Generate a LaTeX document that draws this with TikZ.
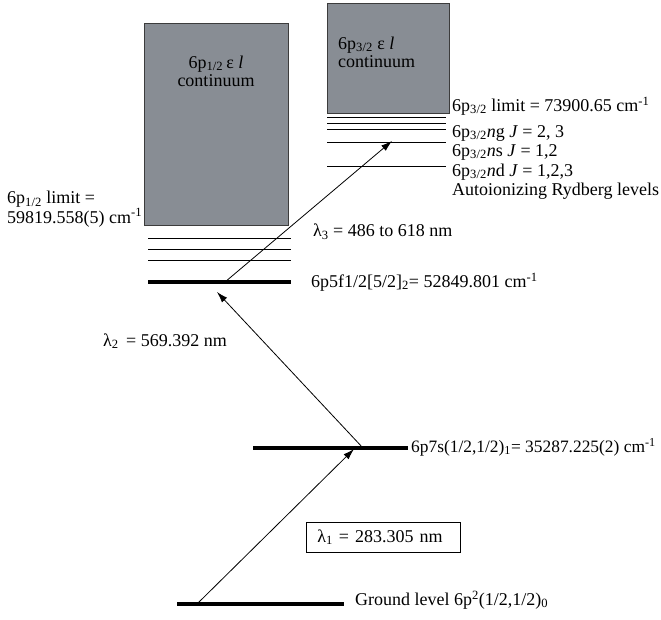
\documentclass[tikz,border=0pt]{standalone}
\usepackage{fontspec}
\setmainfont{Liberation Serif}
\usetikzlibrary{arrows.meta}
\definecolor{contgray}{RGB}{136,141,148}
\definecolor{edgegray}{RGB}{60,60,60}
\tikzset{
  txt/.style={inner sep=0pt, font=\fontsize{18}{18}\selectfont},
  lbl/.style={txt, anchor=west},
  thinlev/.style={line width=0.9pt},
  thicklev/.style={line width=3.4pt},
  contbox/.style={fill=contgray, draw=edgegray, line width=0.9pt},
  photon/.style={line width=0.8pt, -{Latex[length=11pt,width=7pt]}}
}
\begin{document}
\begin{tikzpicture}[x=1pt,y=-1pt]
\useasboundingbox (0,0) rectangle (661,619);
% continua
\draw[contbox] (144,23) rectangle (288,225);
\draw[contbox] (327,3) rectangle (449,113);
\node[txt, align=center] (c1) at (216,71) {6p\textsubscript{1/2}\,ε \textit{l}\\continuum};
\node[txt, align=left, anchor=west] (c2) at (338,52) {6p\textsubscript{3/2} ε \textit{l}\\continuum};
% levels below 6p1/2 limit
\draw[thinlev] (148,238) -- (291,238);
\draw[thinlev] (148,249) -- (291,249);
\draw[thinlev] (148,260) -- (291,260);
\draw[thicklev] (148,282) -- (291,282);
% Rydberg levels below 6p3/2 limit
\draw[thinlev] (327,117.5) -- (446,117.5);
\draw[thinlev] (327,123) -- (446,123);
\draw[thinlev] (327,129) -- (446,129);
\draw[thinlev] (327,142) -- (446,142);
\draw[thinlev] (327,166) -- (446,166);
% intermediate and ground levels
\draw[thicklev] (253,448) -- (408,448);
\draw[thicklev] (177,604) -- (344,604);
% labels
\node[lbl] (lim32) at (452,106) {6p\textsubscript{3/2} limit = 73900.65 cm\textsuperscript{-1}};
\node[lbl] (ng) at (452,133) {6p\textsubscript{3/2}\textit{n}g \textit{J} = 2, 3};
\node[lbl] (ns) at (452,152) {6p\textsubscript{3/2}\textit{n}s \textit{J} = 1,2};
\node[lbl] (nd) at (452,172) {6p\textsubscript{3/2}\textit{n}d \textit{J} = 1,2,3};
\node[lbl] (auto) at (452,191) {Autoionizing Rydberg levels};
\node[txt, align=left, anchor=west] (lim12) at (7,209) {6p\textsubscript{1/2} limit =\\59819.558(5) cm\textsuperscript{-1}};
\node[lbl] (l3) at (313,232) {λ\textsubscript{3} = 486 to 618 nm};
\node[lbl] (f52) at (311,282) {6p5f1/2[5/2]\textsubscript{2}= 52849.801 cm\textsuperscript{-1}};
\node[lbl] (l2) at (103,341) {λ\textsubscript{2}\, = 569.392 nm};
\node[lbl, font=\fontsize{17.4}{18}\selectfont] (s7) at (411,447) {6p7s(1/2,1/2)\textsubscript{1}= 35287.225(2) cm\textsuperscript{-1}};
\node[txt, draw, line width=0.8pt, anchor=west, inner xsep=11pt, text width=132pt, minimum height=30pt, align=left] (l1) at (306,537) {λ\textsubscript{1} = 283.305 nm};
\node[lbl] (gnd) at (355,600) {Ground level 6p\textsuperscript{2}(1/2,1/2)\textsubscript{0}};
% transitions
\coordinate (g0) at (198,603);
\coordinate (s1) at (354,449);
\coordinate (s0) at (363,448);
\coordinate (f1) at (217,292);
\coordinate (f0) at (225,282);
\coordinate (r1) at (392,141);
\draw[photon] (g0) -- (s1);
\draw[photon] (s0) -- (f1);
\draw[photon] (f0) -- (r1);
\end{tikzpicture}
\end{document}
